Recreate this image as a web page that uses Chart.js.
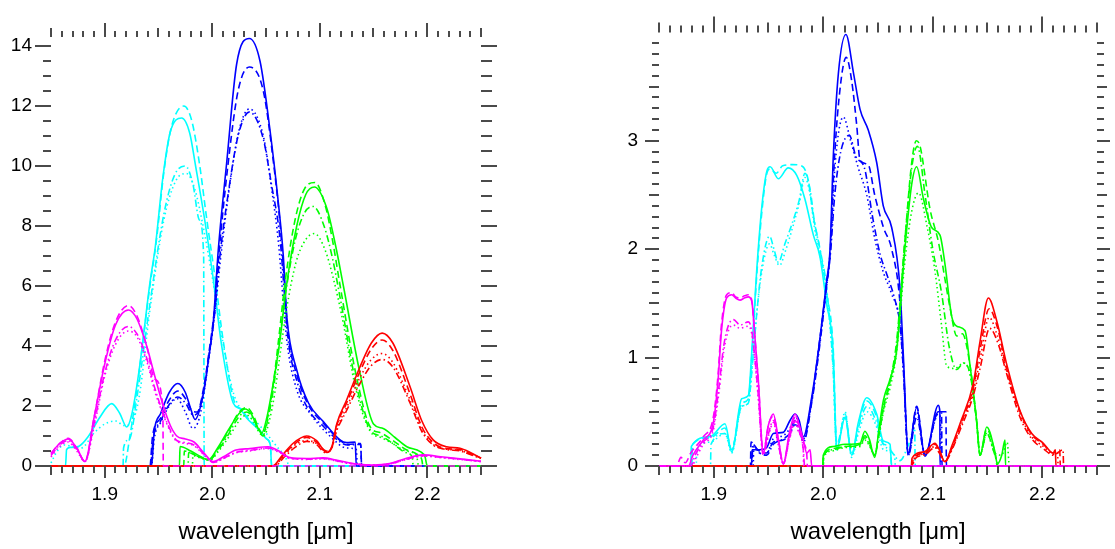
<!DOCTYPE html>
<html>
<head>
<meta charset="utf-8">
<script src="https://cdn.jsdelivr.net/npm/chart.js@4.4.1/dist/chart.umd.min.js"></script>
<style>
  html, body { margin: 0; padding: 0; background: #fff; }
  #wrap { position: relative; width: 1115px; height: 549px; }
  #leftChart { position: absolute; left: 0; top: 0; }
  #rightChart { position: absolute; left: 557px; top: 0; }
</style>
</head>
<body>
<div id="wrap">
  <canvas id="leftChart" width="557" height="549"></canvas>
  <canvas id="rightChart" width="558" height="549"></canvas>
</div>
<script>
// axis labels
const xTitle = 'wavelength [\u03bcm]';
const xTickValues = [1.9, 2.0, 2.1, 2.2];
const leftYTicks = [0, 2, 4, 6, 8, 10, 12, 14];
const rightYTicks = [0, 1, 2, 3];

// ---- left panel: [wavelength, value] ----
const lMagentaSolid = [[1.85,0.42],[1.858,0.75],[1.866,0.9],[1.874,0.6],[1.8816,0.15],[1.89,1.6],[1.9,3.4],[1.91,4.7],[1.922,5.2],[1.93,4.9],[1.939,4.0],[1.9465,3.0],[1.9545,2.0],[1.961,1.35],[1.967,1.0],[1.975,0.9],[1.983,0.8],[1.992,0.45],[2.001,0.15],[2.01,0.3],[2.022,0.53],[2.035,0.58],[2.052,0.64],[2.062,0.5],[2.0723,0.28],[2.088,0.25],[2.103,0.27],[2.115,0.2],[2.128,0.1],[2.15,0.03],[2.165,0.08],[2.18,0.25],[2.196,0.37],[2.215,0.3],[2.235,0.22],[2.25,0.16]];
const lMagentaDashed = [[1.85,0.42],[1.858,0.75],[1.866,0.92],[1.874,0.6],[1.8816,0.15],[1.89,1.6],[1.9,3.5],[1.91,4.8],[1.922,5.35],[1.93,5.0],[1.939,4.0],[1.9465,2.9],[1.954,2.0],[1.9545,0],[2.25,0]];
const lMagentaDashDot = [[1.85,0.35],[1.858,0.7],[1.866,0.85],[1.874,0.55],[1.8816,0.15],[1.89,1.4],[1.9,3.1],[1.91,4.2],[1.922,4.65],[1.93,4.4],[1.939,3.6],[1.9465,2.6],[1.9545,1.75],[1.961,1.2],[1.967,0.85],[1.975,0.78],[1.983,0.7],[1.992,0.4],[2.001,0.12],[2.01,0.25],[2.022,0.45],[2.035,0.52],[2.052,0.6],[2.062,0.48],[2.0723,0.26],[2.088,0.23],[2.103,0.25],[2.115,0.18],[2.128,0.09],[2.15,0.03],[2.165,0.07],[2.18,0.22],[2.196,0.34],[2.215,0.28],[2.235,0.21],[2.25,0.15]];
const lMagentaDotted = [[1.85,0.3],[1.858,0.65],[1.866,0.8],[1.874,0.5],[1.8816,0.15],[1.89,1.3],[1.9,3.0],[1.91,4.05],[1.922,4.5],[1.93,4.3],[1.939,3.5],[1.9465,2.5],[1.9545,1.7],[1.961,1.15],[1.967,0.82],[1.975,0.75],[1.983,0.68],[1.992,0.38],[2.001,0.12],[2.01,0.24],[2.022,0.44],[2.035,0.5],[2.052,0.58],[2.062,0.46],[2.0723,0.25],[2.088,0.22],[2.103,0.24],[2.115,0.17],[2.128,0.08],[2.15,0.03],[2.165,0.07],[2.18,0.21],[2.196,0.33],[2.215,0.27],[2.235,0.2],[2.25,0.15]];

const lCyanSolid = [[1.85,0],[1.8635,0],[1.8645,0.55],[1.868,0.62],[1.876,0.66],[1.885,1.0],[1.895,1.6],[1.9065,2.08],[1.914,1.75],[1.9204,1.3],[1.925,1.7],[1.932,3.2],[1.942,6.1],[1.947,7.3],[1.954,9.6],[1.9607,11.1],[1.9716,11.6],[1.979,11.1],[1.9845,10.0],[1.993,8.2],[2.0007,6.3],[2.0088,4.0],[2.0195,2.1],[2.026,1.9],[2.032,1.6],[2.042,1.25],[2.0507,0.9],[2.054,0.7],[2.0553,0],[2.25,0]];
const lCyanDashed = [[1.85,0],[1.918,0],[1.923,0.9],[1.93,2.6],[1.942,6.0],[1.948,7.5],[1.955,9.8],[1.962,11.3],[1.9736,12.0],[1.981,11.5],[1.988,10.1],[1.995,8.2],[2.0025,6.3],[2.0105,4.1],[2.021,2.1],[2.027,1.9],[2.033,1.6],[2.043,1.25],[2.0507,0.9],[2.054,0.7],[2.0553,0],[2.25,0]];
const lCyanDashDot = [[1.85,0],[1.917,0],[1.9175,0.6],[1.923,0.9],[1.93,2.3],[1.942,5.4],[1.955,8.4],[1.965,9.7],[1.975,10.0],[1.982,9.4],[1.988,8.2],[1.992,7.0],[1.9925,0],[2.25,0]];
const lCyanDotted = [[1.85,0.1],[1.855,0.45],[1.862,0.7],[1.87,0.65],[1.878,0.6],[1.89,1.1],[1.9,1.4],[1.91,1.5],[1.918,1.35],[1.925,1.45],[1.932,2.3],[1.942,5.2],[1.955,8.2],[1.966,9.5],[1.976,9.75],[1.984,9.2],[1.992,7.9],[2.0,6.3],[2.01,4.1],[2.02,2.4],[2.03,1.75],[2.04,1.5],[2.05,1.1],[2.06,0.65],[2.068,0.3],[2.072,0],[2.25,0]];

const lBlueSolid = [[1.85,0],[1.9435,0],[1.946,1.15],[1.952,1.75],[1.96,2.45],[1.968,2.75],[1.975,2.45],[1.98,1.9],[1.984,1.55],[1.9917,2.4],[1.9963,3.5],[2.001,4.8],[2.0056,7.2],[2.0134,10.1],[2.0227,13.4],[2.0345,14.25],[2.0444,13.5],[2.0537,11.2],[2.0614,8.8],[2.0661,7.0],[2.0693,5.0],[2.0786,3.2],[2.0895,2.1],[2.1033,1.48],[2.1188,0.87],[2.125,0.78],[2.133,0.8],[2.134,0],[2.25,0]];
const lBlueDashed = [[1.85,0],[1.942,0],[1.9445,1.0],[1.952,1.6],[1.96,2.2],[1.968,2.5],[1.976,2.2],[1.981,1.85],[1.986,1.8],[1.992,2.6],[1.997,3.8],[2.002,5.2],[2.0065,7.2],[2.0145,10.0],[2.024,12.5],[2.0345,13.3],[2.0475,12.5],[2.057,10.1],[2.063,8.1],[2.067,6.2],[2.07,4.6],[2.079,3.0],[2.09,2.0],[2.104,1.4],[2.119,0.85],[2.126,0.72],[2.138,0.75],[2.139,0],[2.25,0]];
const lBlueDashDot = [[1.85,0],[1.9425,0],[1.945,0.9],[1.952,1.5],[1.96,2.05],[1.968,2.3],[1.976,2.05],[1.982,1.7],[1.986,1.75],[1.992,2.5],[1.997,3.7],[2.002,5.0],[2.0065,6.8],[2.0145,9.0],[2.024,11.0],[2.0345,11.8],[2.0475,10.9],[2.055,9.4],[2.063,7.6],[2.067,5.8],[2.07,4.4],[2.079,2.8],[2.09,1.85],[2.104,1.3],[2.119,0.8],[2.126,0.7],[2.138,0.72],[2.139,0],[2.25,0]];
const lBlueDotted = [[1.85,0],[1.9435,0],[1.946,0.9],[1.952,1.45],[1.96,2.0],[1.967,2.25],[1.975,1.8],[1.982,1.25],[1.988,1.6],[1.993,2.6],[1.998,3.9],[2.003,5.3],[2.008,7.0],[2.016,9.3],[2.025,11.2],[2.0345,11.9],[2.0475,11.0],[2.055,9.3],[2.062,7.3],[2.066,5.5],[2.07,4.0],[2.079,2.5],[2.091,1.75],[2.11,0.98],[2.125,0.6],[2.134,0.55],[2.135,0],[2.25,0]];

const lGreenSolid = [[1.85,0],[1.9695,0],[1.97,0.65],[1.98,0.5],[1.99,0.3],[1.9963,0.2],[2.005,0.6],[2.015,1.2],[2.025,1.75],[2.0305,1.9],[2.036,1.75],[2.042,1.3],[2.046,1.1],[2.0507,1.6],[2.056,2.6],[2.063,4.2],[2.069,6.0],[2.0786,8.0],[2.087,9.05],[2.095,9.3],[2.1065,8.6],[2.115,7.3],[2.122,6.0],[2.1374,3.1],[2.15,1.4],[2.159,1.25],[2.17,0.95],[2.181,0.64],[2.1935,0.48],[2.198,0.3],[2.2,0],[2.25,0]];
const lGreenDashed = [[1.85,0],[1.9735,0],[1.974,0.5],[1.985,0.35],[1.997,0.22],[2.005,0.55],[2.015,1.15],[2.025,1.8],[2.032,1.95],[2.038,1.7],[2.044,1.2],[2.047,1.05],[2.052,1.7],[2.057,2.8],[2.062,4.3],[2.068,6.2],[2.077,8.2],[2.086,9.25],[2.0955,9.45],[2.105,8.7],[2.112,7.5],[2.119,6.0],[2.134,3.0],[2.147,1.3],[2.157,1.1],[2.168,0.85],[2.18,0.55],[2.19,0.4],[2.195,0.2],[2.196,0],[2.25,0]];
const lGreenDashDot = [[1.85,0],[1.9775,0],[1.978,0.45],[1.988,0.3],[1.997,0.2],[2.005,0.5],[2.015,1.05],[2.025,1.65],[2.032,1.8],[2.038,1.6],[2.044,1.15],[2.047,1.0],[2.052,1.6],[2.057,2.6],[2.062,4.0],[2.068,5.7],[2.077,7.5],[2.086,8.45],[2.094,8.65],[2.104,8.0],[2.112,6.9],[2.119,5.6],[2.134,2.7],[2.147,1.2],[2.157,1.0],[2.168,0.75],[2.18,0.45],[2.186,0.3],[2.187,0],[2.25,0]];
const lGreenDotted = [[1.85,0],[1.9815,0],[1.982,0.35],[1.99,0.25],[1.998,0.2],[2.006,0.5],[2.016,1.0],[2.026,1.55],[2.032,1.7],[2.038,1.5],[2.044,1.1],[2.048,1.0],[2.053,1.5],[2.058,2.4],[2.063,3.7],[2.069,5.2],[2.078,6.8],[2.087,7.55],[2.095,7.75],[2.105,7.2],[2.113,6.2],[2.12,5.1],[2.134,2.5],[2.147,1.15],[2.157,0.95],[2.168,0.75],[2.18,0.5],[2.19,0.35],[2.192,0],[2.25,0]];

const lRedSolid = [[1.85,0],[2.056,0],[2.065,0.35],[2.075,0.75],[2.0878,1.0],[2.097,0.85],[2.1065,0.45],[2.111,0.6],[2.1158,1.4],[2.125,2.2],[2.1374,3.3],[2.148,4.1],[2.158,4.43],[2.168,4.1],[2.184,2.64],[2.195,1.5],[2.2055,0.87],[2.218,0.64],[2.2305,0.59],[2.24,0.45],[2.25,0.26]];
const lRedDashed = [[1.85,0],[2.057,0],[2.066,0.35],[2.076,0.72],[2.0878,0.95],[2.097,0.8],[2.106,0.5],[2.111,0.6],[2.1158,1.35],[2.125,2.1],[2.1374,3.15],[2.148,3.9],[2.158,4.2],[2.168,3.85],[2.184,2.4],[2.195,1.3],[2.2055,0.78],[2.218,0.58],[2.2305,0.55],[2.24,0.42],[2.25,0.27]];
const lRedDashDot = [[1.85,0],[2.058,0],[2.067,0.3],[2.077,0.62],[2.088,0.82],[2.097,0.72],[2.105,0.45],[2.11,0.55],[2.116,1.2],[2.125,1.85],[2.1374,2.75],[2.148,3.35],[2.158,3.55],[2.168,3.3],[2.184,2.1],[2.195,1.15],[2.2055,0.7],[2.218,0.55],[2.2305,0.5],[2.24,0.38],[2.25,0.25]];
const lRedDotted = [[1.85,0],[2.057,0],[2.066,0.32],[2.076,0.68],[2.088,0.85],[2.097,0.75],[2.106,0.47],[2.111,0.58],[2.116,1.25],[2.125,1.95],[2.1374,2.95],[2.148,3.55],[2.158,3.75],[2.168,3.45],[2.184,2.2],[2.195,1.2],[2.2055,0.72],[2.218,0.56],[2.2305,0.52],[2.24,0.4],[2.25,0.26]];

// ---- right panel ----
const rMagentaSolid = [[1.85,0],[1.877,0],[1.881,0.1],[1.8905,0.24],[1.8996,0.4],[1.904,0.8],[1.907,1.24],[1.9118,1.55],[1.9164,1.58],[1.92,1.55],[1.924,1.53],[1.928,1.55],[1.9316,1.56],[1.9347,1.52],[1.9375,1.2],[1.9407,0.79],[1.9452,0.12],[1.95,0.38],[1.9544,0.48],[1.959,0.25],[1.9635,0.02],[1.969,0.3],[1.9743,0.48],[1.978,0.38],[1.9818,0.24],[1.985,0.12],[1.988,0.15],[1.9895,0],[2.25,0]];
const rMagentaDashed = [[1.85,0],[1.866,0],[1.87,0.08],[1.874,0.03],[1.879,0.12],[1.8905,0.27],[1.8996,0.45],[1.904,0.85],[1.907,1.3],[1.9118,1.58],[1.9164,1.6],[1.92,1.56],[1.924,1.55],[1.928,1.57],[1.9316,1.58],[1.9347,1.53],[1.9375,1.2],[1.9407,0.78],[1.9452,0.12],[1.95,0.38],[1.9544,0.46],[1.959,0.24],[1.9635,0.02],[1.969,0.28],[1.9743,0.45],[1.978,0.36],[1.9818,0.22],[1.985,0.1],[1.9855,0],[2.25,0]];
const rMagentaDashDot = [[1.85,0],[1.879,0],[1.883,0.1],[1.8905,0.22],[1.8996,0.36],[1.905,0.75],[1.909,1.1],[1.9135,1.3],[1.918,1.35],[1.924,1.3],[1.9316,1.33],[1.9347,1.25],[1.9375,1.0],[1.9407,0.65],[1.9452,0.1],[1.95,0.3],[1.9544,0.42],[1.959,0.2],[1.9635,0.02],[1.969,0.25],[1.9743,0.42],[1.978,0.32],[1.9818,0.15],[1.983,0],[2.25,0]];
const rMagentaDotted = [[1.85,0],[1.88,0],[1.884,0.08],[1.8905,0.2],[1.8996,0.33],[1.905,0.7],[1.909,1.05],[1.9135,1.25],[1.918,1.3],[1.924,1.27],[1.9316,1.29],[1.9347,1.22],[1.9375,0.98],[1.9407,0.62],[1.9452,0.1],[1.95,0.28],[1.9544,0.4],[1.959,0.2],[1.9635,0.02],[1.969,0.24],[1.9743,0.4],[1.978,0.3],[1.9818,0.14],[1.982,0],[2.25,0]];

const rCyanSolid = [[1.85,0],[1.879,0],[1.8795,0.18],[1.8966,0.27],[1.9103,0.39],[1.9164,0.13],[1.9255,0.62],[1.9316,0.65],[1.935,1.1],[1.9392,1.8],[1.944,2.4],[1.9485,2.72],[1.9515,2.76],[1.959,2.65],[1.968,2.75],[1.9758,2.68],[1.9833,2.46],[1.991,2.13],[1.997,1.93],[2.003,1.5],[2.009,1.06],[2.0123,0.16],[2.02,0.45],[2.026,0.1],[2.032,0.4],[2.0397,0.63],[2.0488,0.48],[2.0549,0.23],[2.061,0.2],[2.0625,0],[2.25,0]];
const rCyanDashed = [[1.85,0],[1.88,0],[1.8805,0.2],[1.8966,0.26],[1.9103,0.35],[1.9164,0.15],[1.9255,0.58],[1.9316,0.62],[1.935,1.05],[1.9392,1.75],[1.944,2.35],[1.9485,2.7],[1.9515,2.74],[1.957,2.7],[1.963,2.77],[1.972,2.78],[1.98,2.77],[1.986,2.65],[1.991,2.3],[1.997,2.0],[2.003,1.6],[2.009,1.1],[2.0123,0.2],[2.02,0.45],[2.026,0.1],[2.032,0.38],[2.0397,0.6],[2.0488,0.45],[2.0549,0.2],[2.061,0.18],[2.0625,0],[2.25,0]];
const rCyanDashDot = [[1.85,0],[1.897,0],[1.8975,0.2],[1.9103,0.3],[1.9164,0.15],[1.9255,0.55],[1.9316,0.58],[1.935,0.9],[1.9392,1.4],[1.944,1.85],[1.951,2.12],[1.955,2.0],[1.959,1.88],[1.965,2.05],[1.972,2.25],[1.978,2.45],[1.9833,2.7],[1.988,2.55],[1.992,2.25],[1.997,2.0],[2.003,1.65],[2.009,0.9],[2.0123,0.15],[2.02,0.48],[2.026,0.1],[2.032,0.35],[2.04,0.55],[2.048,0.42],[2.055,0.2],[2.061,0.15],[2.07,0.05],[2.078,0.2],[2.0835,0.35],[2.084,0],[2.25,0]];
const rCyanDotted = [[1.85,0],[1.884,0],[1.8845,0.15],[1.8966,0.22],[1.9103,0.3],[1.9164,0.12],[1.9255,0.55],[1.9316,0.58],[1.935,0.9],[1.9392,1.4],[1.944,1.8],[1.951,2.05],[1.955,1.95],[1.96,1.85],[1.966,2.0],[1.972,2.2],[1.978,2.42],[1.9833,2.66],[1.988,2.5],[1.992,2.2],[1.997,1.95],[2.003,1.6],[2.009,0.9],[2.0123,0.15],[2.02,0.5],[2.026,0.08],[2.032,0.3],[2.04,0.5],[2.048,0.38],[2.055,0.15],[2.065,0.1],[2.066,0],[2.25,0]];

const rBlueSolid = [[1.85,0],[1.9345,0],[1.935,0.15],[1.9422,0.15],[1.9483,0.17],[1.9544,0.3],[1.9635,0.31],[1.9696,0.42],[1.9742,0.48],[1.978,0.42],[1.9818,0.27],[1.9894,0.63],[1.996,1.1],[2.003,1.7],[2.0062,2.0],[2.0092,2.86],[2.0138,3.62],[2.0207,3.98],[2.0277,3.62],[2.0336,3.29],[2.0411,3.1],[2.0488,2.8],[2.0548,2.4],[2.0625,2.2],[2.0701,1.64],[2.0731,1.03],[2.0777,0.12],[2.0853,0.54],[2.0929,0.09],[2.1051,0.56],[2.1065,0.5],[2.1066,0],[2.25,0]];
const rBlueDashed = [[1.85,0],[1.9335,0],[1.934,0.22],[1.94,0.15],[1.9483,0.12],[1.9544,0.22],[1.9635,0.24],[1.9696,0.3],[1.9742,0.42],[1.978,0.38],[1.9818,0.25],[1.9894,0.6],[1.996,1.1],[2.003,1.68],[2.0065,2.0],[2.0095,2.7],[2.014,3.35],[2.021,3.77],[2.026,3.55],[2.0305,3.15],[2.0336,2.82],[2.041,2.78],[2.047,2.5],[2.055,2.2],[2.0625,2.0],[2.0701,1.5],[2.0731,0.95],[2.0777,0.1],[2.0853,0.55],[2.0929,0.1],[2.1051,0.5],[2.112,0.5],[2.1125,0],[2.25,0]];
const rBlueDashDot = [[1.85,0],[1.935,0],[1.9355,0.2],[1.942,0.12],[1.9483,0.1],[1.9544,0.2],[1.9635,0.25],[1.9696,0.3],[1.9742,0.38],[1.978,0.35],[1.9818,0.22],[1.9894,0.58],[1.996,1.05],[2.003,1.65],[2.0065,1.95],[2.0105,2.5],[2.016,2.9],[2.0238,3.05],[2.03,2.85],[2.0376,2.75],[2.045,2.3],[2.052,1.95],[2.058,1.77],[2.065,1.55],[2.0701,1.3],[2.0731,0.9],[2.0777,0.1],[2.0853,0.45],[2.0929,0.1],[2.1051,0.5],[2.108,0.5],[2.1085,0],[2.25,0]];
const rBlueDotted = [[1.85,0],[1.936,0],[1.9365,0.18],[1.942,0.12],[1.9483,0.12],[1.9544,0.25],[1.9635,0.28],[1.9696,0.35],[1.9742,0.45],[1.978,0.4],[1.9818,0.24],[1.9894,0.6],[1.996,1.08],[2.003,1.65],[2.0065,2.0],[2.011,2.8],[2.0183,3.22],[2.025,3.0],[2.032,2.75],[2.0397,2.5],[2.047,2.1],[2.0548,1.79],[2.062,1.6],[2.0701,1.3],[2.0731,0.9],[2.0777,0.1],[2.0853,0.5],[2.0929,0.1],[2.1051,0.48],[2.107,0.45],[2.1075,0],[2.25,0]];

const rGreenSolid = [[1.85,0],[1.9995,0],[2.0,0.1],[2.009,0.18],[2.02,0.2],[2.0336,0.21],[2.038,0.32],[2.042,0.25],[2.047,0.08],[2.051,0.35],[2.055,0.61],[2.061,0.8],[2.067,1.06],[2.0747,2.02],[2.0808,2.6],[2.0853,2.76],[2.0914,2.47],[2.099,2.2],[2.1066,2.13],[2.1112,1.86],[2.1173,1.38],[2.1219,1.29],[2.1294,1.25],[2.134,0.93],[2.14,0.42],[2.1432,0.1],[2.1493,0.36],[2.1568,0.13],[2.159,0.02],[2.163,0.1],[2.166,0.24],[2.1665,0],[2.25,0]];
const rGreenDashed = [[1.85,0],[1.9995,0],[2.0,0.08],[2.009,0.16],[2.02,0.18],[2.0336,0.2],[2.038,0.28],[2.042,0.22],[2.047,0.1],[2.051,0.32],[2.055,0.55],[2.061,0.78],[2.067,1.1],[2.0747,2.1],[2.0808,2.8],[2.085,3.0],[2.0884,2.95],[2.0975,2.37],[2.1051,2.07],[2.1158,1.46],[2.1219,1.2],[2.127,1.22],[2.134,0.93],[2.14,0.42],[2.1432,0.1],[2.1493,0.34],[2.1568,0.12],[2.159,0],[2.25,0]];
const rGreenDashDot = [[1.85,0],[2.0,0],[2.0005,0.1],[2.009,0.15],[2.02,0.18],[2.0336,0.19],[2.038,0.26],[2.042,0.2],[2.047,0.1],[2.051,0.3],[2.055,0.52],[2.061,0.78],[2.067,1.15],[2.0747,2.1],[2.0808,2.75],[2.086,2.95],[2.093,2.5],[2.1,2.0],[2.108,1.6],[2.115,1.1],[2.1219,0.89],[2.128,0.95],[2.134,0.85],[2.14,0.42],[2.1432,0.1],[2.1493,0.3],[2.1568,0.1],[2.16,0],[2.25,0]];
const rGreenDotted = [[1.85,0],[2.0,0],[2.0005,0.08],[2.009,0.14],[2.02,0.17],[2.0336,0.18],[2.038,0.24],[2.042,0.19],[2.047,0.1],[2.051,0.28],[2.055,0.5],[2.061,0.72],[2.067,1.05],[2.0747,1.9],[2.0808,2.35],[2.087,2.52],[2.095,2.2],[2.102,1.8],[2.108,1.3],[2.1128,0.92],[2.12,0.9],[2.128,0.95],[2.134,0.85],[2.14,0.42],[2.1432,0.1],[2.1493,0.3],[2.1568,0.12],[2.163,0.1],[2.168,0.22],[2.17,0],[2.25,0]];

const rRedSolid = [[1.85,0],[2.0805,0],[2.081,0.07],[2.092,0.13],[2.102,0.21],[2.106,0.15],[2.111,0.04],[2.118,0.2],[2.1249,0.39],[2.137,0.76],[2.1432,1.15],[2.1508,1.55],[2.1584,1.34],[2.1675,0.94],[2.1797,0.51],[2.1904,0.3],[2.201,0.21],[2.21,0.12],[2.212,0.15],[2.2125,0],[2.25,0]];
const rRedDashed = [[1.85,0],[2.0815,0],[2.082,0.06],[2.092,0.12],[2.102,0.2],[2.106,0.14],[2.111,0.04],[2.118,0.18],[2.1249,0.37],[2.137,0.72],[2.1432,1.07],[2.1515,1.45],[2.159,1.28],[2.1675,0.9],[2.1797,0.5],[2.1904,0.29],[2.201,0.2],[2.21,0.12],[2.216,0.15],[2.2165,0],[2.25,0]];
const rRedDashDot = [[1.85,0],[2.082,0],[2.0825,0.05],[2.092,0.1],[2.102,0.17],[2.106,0.12],[2.111,0.04],[2.118,0.16],[2.1249,0.33],[2.137,0.65],[2.1432,0.9],[2.152,1.27],[2.16,1.12],[2.1675,0.85],[2.1797,0.45],[2.1904,0.25],[2.201,0.16],[2.21,0.1],[2.219,0.15],[2.2195,0],[2.25,0]];
const rRedDotted = [[1.85,0],[2.082,0],[2.0825,0.06],[2.092,0.11],[2.102,0.18],[2.106,0.13],[2.111,0.04],[2.118,0.17],[2.1249,0.35],[2.137,0.68],[2.1432,0.98],[2.1515,1.37],[2.159,1.2],[2.1675,0.88],[2.1797,0.48],[2.1904,0.27],[2.201,0.18],[2.21,0.11],[2.214,0.12],[2.2145,0],[2.25,0]];

Chart.defaults.font.family = "'Liberation Sans', Arial, sans-serif";

const DASH = { solid: [], dashed: [7, 4], dashdot: [7, 3, 1.5, 3], dotted: [1.5, 3] };

function line(points, color, dash) {
  return {
    data: points.map(p => ({ x: p[0], y: p[1] })),
    borderColor: color,
    borderDash: DASH[dash],
    borderWidth: 1.6,
    pointRadius: 0,
    cubicInterpolationMode: 'monotone',
    fill: false,
    clip: false
  };
}

// one group of four line styles per colour
function group(color, s, d, dd, dt) {
  return [line(s, color, 'solid'), line(d, color, 'dashed'), line(dd, color, 'dashdot'), line(dt, color, 'dotted')];
}

const leftSets = [].concat(
  group('#ff00ff', lMagentaSolid, lMagentaDashed, lMagentaDashDot, lMagentaDotted),
  group('#ff0000', lRedSolid, lRedDashed, lRedDashDot, lRedDotted),
  group('#00ff00', lGreenSolid, lGreenDashed, lGreenDashDot, lGreenDotted),
  group('#0000ff', lBlueSolid, lBlueDashed, lBlueDashDot, lBlueDotted),
  group('#00ffff', lCyanSolid, lCyanDashed, lCyanDashDot, lCyanDotted)
);
const rightSets = [].concat(
  group('#ff00ff', rMagentaSolid, rMagentaDashed, rMagentaDashDot, rMagentaDotted),
  group('#ff0000', rRedSolid, rRedDashed, rRedDashDot, rRedDotted),
  group('#00ff00', rGreenSolid, rGreenDashed, rGreenDashDot, rGreenDotted),
  group('#0000ff', rBlueSolid, rBlueDashed, rBlueDashDot, rBlueDotted),
  group('#00ffff', rCyanSolid, rCyanDashed, rCyanDashDot, rCyanDotted)
);

// tick marks on all four sides (k: 0 major, 1 medium, 2 minor)
function xMarks() {
  const out = [];
  for (let i = 0; i <= 40; i++) {
    const v = Math.round((1.85 + i * 0.01) * 1000) / 1000;
    const k = xTickValues.some(t => Math.abs(t - v) < 1e-6) ? 0 : (i % 5 === 0 ? 1 : 2);
    out.push({ v, k });
  }
  return out;
}
function yMarks(n, step, majorEvery, midEvery) {
  const out = [];
  for (let i = 0; i <= n; i++) {
    const k = i % majorEvery === 0 ? 0 : (midEvery && i % midEvery === 0 ? 1 : 2);
    out.push({ v: i * step, k });
  }
  return out;
}

function frameTicks(cfg) {
  return {
    id: 'frameTicks',
    afterDraw(chart) {
      const ctx = chart.ctx, xs = chart.scales.x, ys = chart.scales.y, a = chart.chartArea;
      ctx.save();
      ctx.strokeStyle = '#4a4a4a';
      ctx.lineWidth = 2;
      ctx.beginPath();
      cfg.x.forEach(m => {
        const px = Math.round(xs.getPixelForValue(m.v));
        ctx.moveTo(px, a.bottom); ctx.lineTo(px, a.bottom + cfg.bottom[m.k]);
        ctx.moveTo(px, a.top); ctx.lineTo(px, a.top - cfg.top[m.k]);
      });
      cfg.y.forEach(m => {
        const py = Math.round(ys.getPixelForValue(m.v));
        ctx.moveTo(a.left, py); ctx.lineTo(a.left - cfg.left[m.k], py);
        ctx.moveTo(a.right, py); ctx.lineTo(a.right + cfg.right[m.k], py);
      });
      ctx.stroke();
      ctx.restore();
    }
  };
}

function panel(id, datasets, opt) {
  return new Chart(document.getElementById(id), {
    type: 'line',
    data: { datasets },
    options: {
      responsive: false,
      animation: false,
      layout: { padding: { top: opt.padTop, right: opt.padRight, left: 0, bottom: 0 } },
      plugins: { legend: { display: false }, tooltip: { enabled: false } },
      scales: {
        x: {
          type: 'linear', min: 1.85, max: 2.25,
          grid: { display: false, drawTicks: false }, border: { display: false },
          afterBuildTicks: s => { s.ticks = xTickValues.map(v => ({ value: v })); },
          afterFit: s => { s.height = 83; },
          ticks: { autoSkip: false, maxRotation: 0, padding: 17, color: '#000', font: { size: 19 }, callback: v => v.toFixed(1) },
          title: { display: true, text: xTitle, color: '#000', font: { size: 24 }, padding: { top: 0, bottom: 2 } }
        },
        y: {
          type: 'linear', min: 0, max: opt.yMax,
          grid: { display: false, drawTicks: false }, border: { display: false },
          afterBuildTicks: s => { s.ticks = opt.yTicks.map(v => ({ value: v })); },
          afterFit: s => { s.width = opt.yWidth; },
          ticks: { padding: opt.yPad, color: '#000', font: { size: 19 }, callback: v => String(v) }
        }
      }
    },
    plugins: [frameTicks(opt.frame)]
  });
}

panel('leftChart', leftSets, {
  padTop: 37, padRight: 76, yWidth: 51, yPad: 19, yMax: 14.3, yTicks: leftYTicks,
  frame: { x: xMarks(), y: yMarks(28, 0.5, 4, 0), top: [14, 9, 6], bottom: [12, 9, 7], left: [16, 10, 8], right: [16, 12, 11] }
});
panel('rightChart', rightSets, {
  padTop: 28, padRight: 18, yWidth: 102, yPad: 21, yMax: 4.0, yTicks: rightYTicks,
  frame: { x: xMarks(), y: yMarks(39, 0.1, 10, 5), top: [16, 10, 7], bottom: [12, 9, 7], left: [14, 10, 7], right: [13, 10, 7] }
});
</script>
</body>
</html>
